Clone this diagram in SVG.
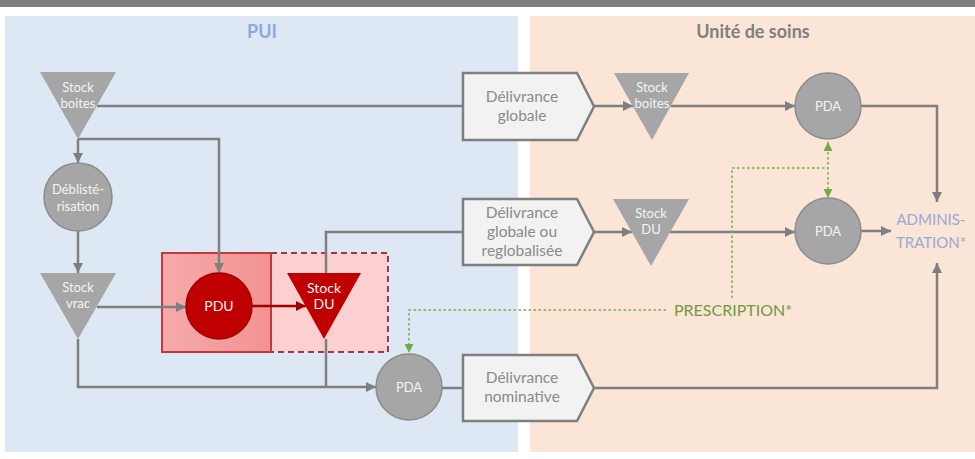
<svg xmlns="http://www.w3.org/2000/svg" width="975" height="459" viewBox="0 0 975 459">
<style>
.conn{fill:none;stroke:#7f7f7f;stroke-width:2.5}
.green{fill:none;stroke:#70ad47;stroke-width:1.5;stroke-dasharray:2.5 2.5}
.tri{fill:#a6a6a6}
.circ{fill:#a6a6a6;stroke:#8c8c8c;stroke-width:1.5}
.wt{font-family:Lato,"Open Sans",sans-serif;font-size:13px;fill:#f4f4f4;text-anchor:middle}
.box{fill:#f2f2f2;stroke:#7f7f7f;stroke-width:2.5}
.bt{font-family:Lato,"Open Sans",sans-serif;font-size:15.5px;fill:#8a8a8a;text-anchor:middle}
.title{font-family:Lato,"Open Sans",sans-serif;font-size:18px;font-weight:bold;text-anchor:middle}
.lab{font-family:Lato,"Open Sans",sans-serif;text-anchor:middle}
</style>
<defs>
<marker id="ah" viewBox="0 0 10 10" refX="10" refY="5" markerWidth="10" markerHeight="10" markerUnits="userSpaceOnUse" orient="auto"><path d="M0,0 L10,5 L0,10 z" fill="#7f7f7f"/></marker>
<marker id="ahr" viewBox="0 0 10 10" refX="10" refY="5" markerWidth="10" markerHeight="10" markerUnits="userSpaceOnUse" orient="auto"><path d="M0,0 L10,5 L0,10 z" fill="#a00000"/></marker>
<marker id="ahg" viewBox="0 0 10 10" refX="10" refY="5" markerWidth="9" markerHeight="9" markerUnits="userSpaceOnUse" orient="auto-start-reverse"><path d="M0,0 L10,5 L0,10 z" fill="#70ad47"/></marker>
<linearGradient id="rg" x1="0" y1="0" x2="1" y2="0"><stop offset="0" stop-color="#f6aaaa"/><stop offset="1" stop-color="#f29292"/></linearGradient>
</defs>
<rect width="975" height="459" fill="#ffffff"/>
<rect x="0" y="0" width="975" height="7" fill="#808080"/>
<g id="panels">
<rect x="5" y="16" width="513" height="436" fill="#dde8f4"/>
<rect x="530" y="16" width="445" height="436" fill="#fbe5d7"/>
<text class="title" x="262" y="38" fill="#8eaadb">PUI</text>
<text class="title" x="753" y="38" fill="#7f7f7f">Unité de soins</text>
</g>
<g id="pdu-zone">
<rect x="271" y="253" width="117" height="99" fill="#fcd0d0" stroke="#a0374a" stroke-width="2" stroke-dasharray="6 4"/>
<rect x="162" y="253" width="109" height="99" fill="url(#rg)" stroke="#c0393b" stroke-width="2"/>
</g>
<g id="connectors">
<path class="conn" d="M97 106 H463"/>
<path class="conn" d="M78 139 H219 V273" marker-end="url(#ah)"/>
<path class="conn" d="M78 139 V163" marker-end="url(#ah)"/>
<path class="conn" d="M78 231 V273" marker-end="url(#ah)"/>
<path class="conn" d="M97 307 H186" marker-end="url(#ah)"/>
<path class="conn" d="M78 339 V387 H376" marker-end="url(#ah)"/>
<path d="M252 306 H306" fill="none" stroke="#a00000" stroke-width="2.5" marker-end="url(#ahr)"/>
<path class="conn" d="M326 273 V232 H463"/>
<path class="conn" d="M326 339 V387"/>
<path class="conn" d="M594 106 H633" marker-end="url(#ah)"/>
<path class="conn" d="M671 106 H795" marker-end="url(#ah)"/>
<path class="conn" d="M861 106 H937 V202" marker-end="url(#ah)"/>
<path class="conn" d="M594 232 H632" marker-end="url(#ah)"/>
<path class="conn" d="M670 232 H795" marker-end="url(#ah)"/>
<path class="conn" d="M861 231 H891" marker-end="url(#ah)"/>
<path class="conn" d="M442 388 H463"/>
<path class="conn" d="M594 388 H937 V263" marker-end="url(#ah)"/>
<path class="green" d="M666 310 H409 V353" marker-end="url(#ahg)"/>
<path class="green" d="M732 298 V168 H828"/>
<path class="green" d="M828 142 V198" marker-start="url(#ahg)" marker-end="url(#ahg)"/>
</g>
<g id="stock-boites-pui">
<polygon class="tri" points="40,72 116,72 78,139"/>
<text class="wt" x="78" y="92">Stock</text>
<text class="wt" x="78" y="108">boites</text>
</g>
<g id="deblisterisation">
<circle class="circ" cx="78" cy="197" r="34"/>
<text class="wt" x="78" y="194">Déblisté-</text>
<text class="wt" x="78" y="211">risation</text>
</g>
<g id="stock-vrac">
<polygon class="tri" points="40,273 116,273 78,339"/>
<text class="wt" x="78" y="292">Stock</text>
<text class="wt" x="78" y="308">vrac</text>
</g>
<g id="pdu">
<circle cx="219" cy="306" r="33" fill="#c00000" stroke="#a00000" stroke-width="1.5"/>
<text class="wt" x="219" y="311" style="font-size:14px">PDU</text>
</g>
<g id="stock-du-pui">
<polygon points="287,273 361,273 324,339" fill="#c00000"/>
<text class="wt" x="324" y="293" style="font-size:14px">Stock</text>
<text class="wt" x="324" y="309" style="font-size:14px">DU</text>
</g>
<g id="pda-nominative">
<circle class="circ" cx="409" cy="387" r="33"/>
<text class="wt" x="409" y="392">PDA</text>
</g>
<g id="delivrance-globale">
<polygon class="box" points="463,73 577,73 594,106.5 577,140 463,140"/>
<text class="bt" x="522" y="102">Délivrance</text>
<text class="bt" x="522" y="121">globale</text>
</g>
<g id="delivrance-reglobalisee">
<polygon class="box" points="463,199 577,199 594,232 577,265 463,265"/>
<text class="bt" x="522" y="218">Délivrance</text>
<text class="bt" x="522" y="237">globale ou</text>
<text class="bt" x="522" y="256">reglobalisée</text>
</g>
<g id="delivrance-nominative">
<polygon class="box" points="463,355 577,355 594,388 577,421 463,421"/>
<text class="bt" x="522" y="383">Délivrance</text>
<text class="bt" x="522" y="402">nominative</text>
</g>
<g id="stock-boites-us">
<polygon class="tri" points="614,73 689,73 652,140"/>
<text class="wt" x="652" y="92">Stock</text>
<text class="wt" x="652" y="108">boites</text>
</g>
<g id="stock-du-us">
<polygon class="tri" points="613,199 689,199 651,266"/>
<text class="wt" x="651" y="218">Stock</text>
<text class="wt" x="651" y="234">DU</text>
</g>
<g id="pda-globale">
<circle class="circ" cx="828" cy="106" r="33"/>
<text class="wt" x="828" y="111">PDA</text>
</g>
<g id="pda-du">
<circle class="circ" cx="828" cy="231" r="33"/>
<text class="wt" x="828" y="236">PDA</text>
</g>
<g id="prescription">
<text class="lab" x="733" y="316" style="font-size:16px;fill:#6f9a3e">PRESCRIPTION*</text>
</g>
<g id="administration">
<text class="lab" x="931" y="225" style="font-size:15px;fill:#97a9d4">ADMINIS-</text>
<text class="lab" x="931" y="248" style="font-size:15px;fill:#97a9d4">TRATION*</text>
</g>
</svg>
